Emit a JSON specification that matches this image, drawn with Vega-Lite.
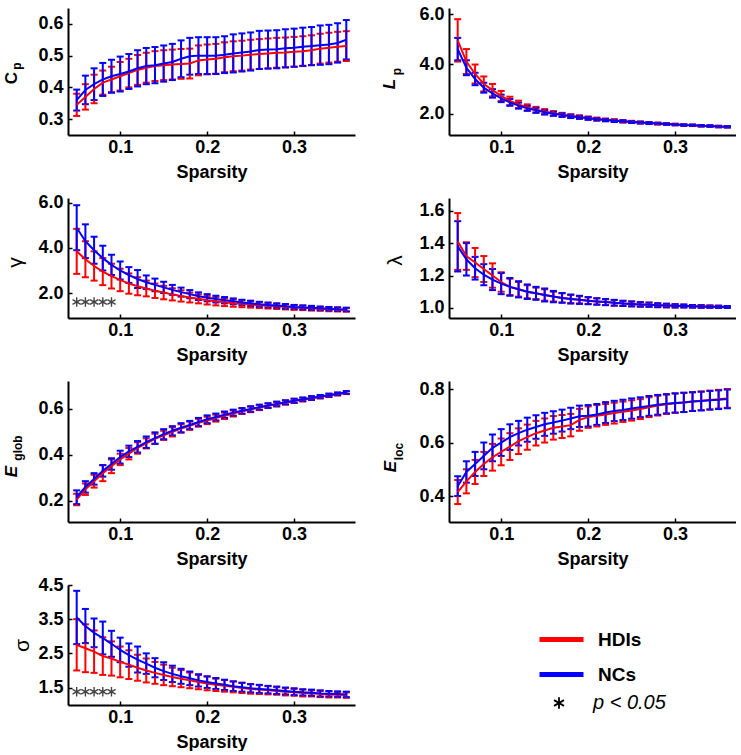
{
"$schema": "https://vega.github.io/schema/vega-lite/v6.json",
"padding": {"left": 2, "top": 5, "right": 0, "bottom": 0},
"background": "white",
"config": {
 "view": {"stroke": null},
 "font": "Liberation Sans",
 "axis": {"labelFont": "Liberation Sans", "labelFontSize": 18, "labelFontWeight": "bold", "labelColor": "black", "titleFont": "Liberation Sans", "titleFontSize": 17, "titleFontWeight": "bold", "titleColor": "black", "domainColor": "black", "domainWidth": 2, "tickColor": "black", "tickWidth": 1.5, "tickSize": -4, "grid": false},
 "axisX": {"labelPadding": 7, "titlePadding": 7, "titleFontSize": 18},
 "axisY": {"labelPadding": 9, "titleAngle": 270, "titleAlign": "center", "titleBaseline": "middle"},
 "legend": {"padding": 0, "labelFont": "Liberation Sans", "labelColor": "black"}
},
"datasets": {
"cp": [
{"g":"HDIs","x":0.05,"y":0.345,"e":0.035},{"g":"HDIs","x":0.06,"y":0.370,"e":0.040},{"g":"HDIs","x":0.07,"y":0.395,"e":0.045},{"g":"HDIs","x":0.08,"y":0.415,"e":0.038},{"g":"HDIs","x":0.09,"y":0.425,"e":0.040},{"g":"HDIs","x":0.10,"y":0.435,"e":0.045},{"g":"HDIs","x":0.11,"y":0.445,"e":0.045},{"g":"HDIs","x":0.12,"y":0.455,"e":0.047},{"g":"HDIs","x":0.13,"y":0.462,"e":0.047},{"g":"HDIs","x":0.14,"y":0.467,"e":0.047},{"g":"HDIs","x":0.15,"y":0.470,"e":0.047},{"g":"HDIs","x":0.16,"y":0.472,"e":0.047},{"g":"HDIs","x":0.17,"y":0.474,"e":0.047},{"g":"HDIs","x":0.18,"y":0.475,"e":0.047},{"g":"HDIs","x":0.19,"y":0.485,"e":0.047},{"g":"HDIs","x":0.20,"y":0.488,"e":0.047},{"g":"HDIs","x":0.21,"y":0.490,"e":0.047},{"g":"HDIs","x":0.22,"y":0.495,"e":0.047},{"g":"HDIs","x":0.23,"y":0.498,"e":0.047},{"g":"HDIs","x":0.24,"y":0.500,"e":0.047},{"g":"HDIs","x":0.25,"y":0.503,"e":0.047},{"g":"HDIs","x":0.26,"y":0.505,"e":0.047},{"g":"HDIs","x":0.27,"y":0.507,"e":0.047},{"g":"HDIs","x":0.28,"y":0.509,"e":0.047},{"g":"HDIs","x":0.29,"y":0.510,"e":0.047},{"g":"HDIs","x":0.30,"y":0.512,"e":0.047},{"g":"HDIs","x":0.31,"y":0.514,"e":0.047},{"g":"HDIs","x":0.32,"y":0.517,"e":0.047},{"g":"HDIs","x":0.33,"y":0.522,"e":0.047},{"g":"HDIs","x":0.34,"y":0.525,"e":0.047},{"g":"HDIs","x":0.35,"y":0.528,"e":0.047},{"g":"HDIs","x":0.36,"y":0.530,"e":0.047},
{"g":"NCs","x":0.05,"y":0.360,"e":0.033},{"g":"NCs","x":0.06,"y":0.392,"e":0.045},{"g":"NCs","x":0.07,"y":0.410,"e":0.050},{"g":"NCs","x":0.08,"y":0.425,"e":0.052},{"g":"NCs","x":0.09,"y":0.435,"e":0.052},{"g":"NCs","x":0.10,"y":0.442,"e":0.055},{"g":"NCs","x":0.11,"y":0.450,"e":0.055},{"g":"NCs","x":0.12,"y":0.460,"e":0.057},{"g":"NCs","x":0.13,"y":0.467,"e":0.057},{"g":"NCs","x":0.14,"y":0.470,"e":0.057},{"g":"NCs","x":0.15,"y":0.475,"e":0.057},{"g":"NCs","x":0.16,"y":0.480,"e":0.057},{"g":"NCs","x":0.17,"y":0.490,"e":0.058},{"g":"NCs","x":0.18,"y":0.498,"e":0.058},{"g":"NCs","x":0.19,"y":0.500,"e":0.058},{"g":"NCs","x":0.20,"y":0.500,"e":0.058},{"g":"NCs","x":0.21,"y":0.500,"e":0.058},{"g":"NCs","x":0.22,"y":0.503,"e":0.058},{"g":"NCs","x":0.23,"y":0.507,"e":0.060},{"g":"NCs","x":0.24,"y":0.510,"e":0.060},{"g":"NCs","x":0.25,"y":0.513,"e":0.060},{"g":"NCs","x":0.26,"y":0.518,"e":0.060},{"g":"NCs","x":0.27,"y":0.519,"e":0.060},{"g":"NCs","x":0.28,"y":0.520,"e":0.060},{"g":"NCs","x":0.29,"y":0.523,"e":0.060},{"g":"NCs","x":0.30,"y":0.525,"e":0.060},{"g":"NCs","x":0.31,"y":0.528,"e":0.060},{"g":"NCs","x":0.32,"y":0.530,"e":0.060},{"g":"NCs","x":0.33,"y":0.533,"e":0.062},{"g":"NCs","x":0.34,"y":0.535,"e":0.062},{"g":"NCs","x":0.35,"y":0.540,"e":0.062},{"g":"NCs","x":0.36,"y":0.550,"e":0.062}
],
"lp": [
{"g":"HDIs","x":0.05,"y":4.95,"e":0.85},{"g":"HDIs","x":0.06,"y":4.10,"e":0.50},{"g":"HDIs","x":0.07,"y":3.60,"e":0.38},{"g":"HDIs","x":0.08,"y":3.20,"e":0.30},{"g":"HDIs","x":0.09,"y":2.95,"e":0.25},{"g":"HDIs","x":0.10,"y":2.72,"e":0.20},{"g":"HDIs","x":0.11,"y":2.52,"e":0.17},{"g":"HDIs","x":0.12,"y":2.38,"e":0.15},{"g":"HDIs","x":0.13,"y":2.26,"e":0.12},{"g":"HDIs","x":0.14,"y":2.17,"e":0.11},{"g":"HDIs","x":0.15,"y":2.09,"e":0.10},{"g":"HDIs","x":0.16,"y":2.02,"e":0.09},{"g":"HDIs","x":0.17,"y":1.96,"e":0.08},{"g":"HDIs","x":0.18,"y":1.91,"e":0.07},{"g":"HDIs","x":0.19,"y":1.87,"e":0.07},{"g":"HDIs","x":0.20,"y":1.83,"e":0.06},{"g":"HDIs","x":0.21,"y":1.79,"e":0.06},{"g":"HDIs","x":0.22,"y":1.76,"e":0.05},{"g":"HDIs","x":0.23,"y":1.73,"e":0.05},{"g":"HDIs","x":0.24,"y":1.70,"e":0.05},{"g":"HDIs","x":0.25,"y":1.68,"e":0.04},{"g":"HDIs","x":0.26,"y":1.65,"e":0.04},{"g":"HDIs","x":0.27,"y":1.63,"e":0.04},{"g":"HDIs","x":0.28,"y":1.61,"e":0.04},{"g":"HDIs","x":0.29,"y":1.59,"e":0.03},{"g":"HDIs","x":0.30,"y":1.57,"e":0.03},{"g":"HDIs","x":0.31,"y":1.55,"e":0.03},{"g":"HDIs","x":0.32,"y":1.54,"e":0.03},{"g":"HDIs","x":0.33,"y":1.52,"e":0.03},{"g":"HDIs","x":0.34,"y":1.51,"e":0.03},{"g":"HDIs","x":0.35,"y":1.49,"e":0.03},{"g":"HDIs","x":0.36,"y":1.48,"e":0.03},
{"g":"NCs","x":0.05,"y":4.60,"e":0.45},{"g":"NCs","x":0.06,"y":3.85,"e":0.30},{"g":"NCs","x":0.07,"y":3.40,"e":0.25},{"g":"NCs","x":0.08,"y":3.05,"e":0.20},{"g":"NCs","x":0.09,"y":2.82,"e":0.17},{"g":"NCs","x":0.10,"y":2.62,"e":0.15},{"g":"NCs","x":0.11,"y":2.46,"e":0.14},{"g":"NCs","x":0.12,"y":2.33,"e":0.12},{"g":"NCs","x":0.13,"y":2.22,"e":0.10},{"g":"NCs","x":0.14,"y":2.14,"e":0.10},{"g":"NCs","x":0.15,"y":2.06,"e":0.09},{"g":"NCs","x":0.16,"y":2.00,"e":0.08},{"g":"NCs","x":0.17,"y":1.95,"e":0.07},{"g":"NCs","x":0.18,"y":1.90,"e":0.07},{"g":"NCs","x":0.19,"y":1.86,"e":0.06},{"g":"NCs","x":0.20,"y":1.82,"e":0.06},{"g":"NCs","x":0.21,"y":1.78,"e":0.05},{"g":"NCs","x":0.22,"y":1.75,"e":0.05},{"g":"NCs","x":0.23,"y":1.72,"e":0.05},{"g":"NCs","x":0.24,"y":1.70,"e":0.04},{"g":"NCs","x":0.25,"y":1.67,"e":0.04},{"g":"NCs","x":0.26,"y":1.65,"e":0.04},{"g":"NCs","x":0.27,"y":1.63,"e":0.04},{"g":"NCs","x":0.28,"y":1.61,"e":0.03},{"g":"NCs","x":0.29,"y":1.59,"e":0.03},{"g":"NCs","x":0.30,"y":1.57,"e":0.03},{"g":"NCs","x":0.31,"y":1.55,"e":0.03},{"g":"NCs","x":0.32,"y":1.54,"e":0.03},{"g":"NCs","x":0.33,"y":1.52,"e":0.03},{"g":"NCs","x":0.34,"y":1.51,"e":0.03},{"g":"NCs","x":0.35,"y":1.49,"e":0.03},{"g":"NCs","x":0.36,"y":1.48,"e":0.03}
],
"gam": [
{"g":"HDIs","x":0.05,"y":3.85,"e":1.00},{"g":"HDIs","x":0.06,"y":3.50,"e":0.80},{"g":"HDIs","x":0.07,"y":3.20,"e":0.65},{"g":"HDIs","x":0.08,"y":2.95,"e":0.60},{"g":"HDIs","x":0.09,"y":2.75,"e":0.55},{"g":"HDIs","x":0.10,"y":2.58,"e":0.50},{"g":"HDIs","x":0.11,"y":2.42,"e":0.45},{"g":"HDIs","x":0.12,"y":2.30,"e":0.40},{"g":"HDIs","x":0.13,"y":2.20,"e":0.35},{"g":"HDIs","x":0.14,"y":2.10,"e":0.32},{"g":"HDIs","x":0.15,"y":2.02,"e":0.30},{"g":"HDIs","x":0.16,"y":1.94,"e":0.27},{"g":"HDIs","x":0.17,"y":1.87,"e":0.25},{"g":"HDIs","x":0.18,"y":1.80,"e":0.22},{"g":"HDIs","x":0.19,"y":1.74,"e":0.20},{"g":"HDIs","x":0.20,"y":1.68,"e":0.19},{"g":"HDIs","x":0.21,"y":1.63,"e":0.18},{"g":"HDIs","x":0.22,"y":1.59,"e":0.17},{"g":"HDIs","x":0.23,"y":1.55,"e":0.16},{"g":"HDIs","x":0.24,"y":1.52,"e":0.15},{"g":"HDIs","x":0.25,"y":1.49,"e":0.14},{"g":"HDIs","x":0.26,"y":1.46,"e":0.13},{"g":"HDIs","x":0.27,"y":1.43,"e":0.12},{"g":"HDIs","x":0.28,"y":1.41,"e":0.12},{"g":"HDIs","x":0.29,"y":1.38,"e":0.11},{"g":"HDIs","x":0.30,"y":1.36,"e":0.11},{"g":"HDIs","x":0.31,"y":1.34,"e":0.10},{"g":"HDIs","x":0.32,"y":1.32,"e":0.10},{"g":"HDIs","x":0.33,"y":1.30,"e":0.09},{"g":"HDIs","x":0.34,"y":1.28,"e":0.09},{"g":"HDIs","x":0.35,"y":1.27,"e":0.09},{"g":"HDIs","x":0.36,"y":1.25,"e":0.08},
{"g":"NCs","x":0.05,"y":4.90,"e":1.00},{"g":"NCs","x":0.06,"y":4.30,"e":0.75},{"g":"NCs","x":0.07,"y":3.90,"e":0.60},{"g":"NCs","x":0.08,"y":3.55,"e":0.55},{"g":"NCs","x":0.09,"y":3.25,"e":0.45},{"g":"NCs","x":0.10,"y":3.00,"e":0.40},{"g":"NCs","x":0.11,"y":2.80,"e":0.35},{"g":"NCs","x":0.12,"y":2.62,"e":0.40},{"g":"NCs","x":0.13,"y":2.48,"e":0.30},{"g":"NCs","x":0.14,"y":2.36,"e":0.28},{"g":"NCs","x":0.15,"y":2.25,"e":0.25},{"g":"NCs","x":0.16,"y":2.14,"e":0.22},{"g":"NCs","x":0.17,"y":2.04,"e":0.20},{"g":"NCs","x":0.18,"y":1.95,"e":0.18},{"g":"NCs","x":0.19,"y":1.86,"e":0.17},{"g":"NCs","x":0.20,"y":1.79,"e":0.16},{"g":"NCs","x":0.21,"y":1.73,"e":0.15},{"g":"NCs","x":0.22,"y":1.68,"e":0.14},{"g":"NCs","x":0.23,"y":1.63,"e":0.13},{"g":"NCs","x":0.24,"y":1.58,"e":0.12},{"g":"NCs","x":0.25,"y":1.54,"e":0.12},{"g":"NCs","x":0.26,"y":1.50,"e":0.11},{"g":"NCs","x":0.27,"y":1.47,"e":0.11},{"g":"NCs","x":0.28,"y":1.44,"e":0.10},{"g":"NCs","x":0.29,"y":1.41,"e":0.10},{"g":"NCs","x":0.30,"y":1.38,"e":0.09},{"g":"NCs","x":0.31,"y":1.36,"e":0.09},{"g":"NCs","x":0.32,"y":1.34,"e":0.09},{"g":"NCs","x":0.33,"y":1.32,"e":0.08},{"g":"NCs","x":0.34,"y":1.30,"e":0.08},{"g":"NCs","x":0.35,"y":1.28,"e":0.08},{"g":"NCs","x":0.36,"y":1.27,"e":0.08}
],
"lam": [
{"g":"HDIs","x":0.05,"y":1.410,"e":0.175},{"g":"HDIs","x":0.06,"y":1.320,"e":0.085},{"g":"HDIs","x":0.07,"y":1.280,"e":0.090},{"g":"HDIs","x":0.08,"y":1.240,"e":0.080},{"g":"HDIs","x":0.09,"y":1.200,"e":0.075},{"g":"HDIs","x":0.10,"y":1.160,"e":0.060},{"g":"HDIs","x":0.11,"y":1.130,"e":0.050},{"g":"HDIs","x":0.12,"y":1.115,"e":0.045},{"g":"HDIs","x":0.13,"y":1.100,"e":0.040},{"g":"HDIs","x":0.14,"y":1.090,"e":0.035},{"g":"HDIs","x":0.15,"y":1.080,"e":0.035},{"g":"HDIs","x":0.16,"y":1.070,"e":0.030},{"g":"HDIs","x":0.17,"y":1.062,"e":0.028},{"g":"HDIs","x":0.18,"y":1.055,"e":0.025},{"g":"HDIs","x":0.19,"y":1.050,"e":0.022},{"g":"HDIs","x":0.20,"y":1.045,"e":0.020},{"g":"HDIs","x":0.21,"y":1.040,"e":0.019},{"g":"HDIs","x":0.22,"y":1.036,"e":0.018},{"g":"HDIs","x":0.23,"y":1.032,"e":0.017},{"g":"HDIs","x":0.24,"y":1.028,"e":0.016},{"g":"HDIs","x":0.25,"y":1.025,"e":0.015},{"g":"HDIs","x":0.26,"y":1.022,"e":0.014},{"g":"HDIs","x":0.27,"y":1.020,"e":0.013},{"g":"HDIs","x":0.28,"y":1.017,"e":0.012},{"g":"HDIs","x":0.29,"y":1.015,"e":0.011},{"g":"HDIs","x":0.30,"y":1.013,"e":0.010},{"g":"HDIs","x":0.31,"y":1.012,"e":0.009},{"g":"HDIs","x":0.32,"y":1.010,"e":0.008},{"g":"HDIs","x":0.33,"y":1.009,"e":0.008},{"g":"HDIs","x":0.34,"y":1.008,"e":0.007},{"g":"HDIs","x":0.35,"y":1.007,"e":0.007},{"g":"HDIs","x":0.36,"y":1.006,"e":0.006},
{"g":"NCs","x":0.05,"y":1.380,"e":0.155},{"g":"NCs","x":0.06,"y":1.300,"e":0.100},{"g":"NCs","x":0.07,"y":1.245,"e":0.070},{"g":"NCs","x":0.08,"y":1.205,"e":0.065},{"g":"NCs","x":0.09,"y":1.175,"e":0.065},{"g":"NCs","x":0.10,"y":1.150,"e":0.065},{"g":"NCs","x":0.11,"y":1.130,"e":0.055},{"g":"NCs","x":0.12,"y":1.115,"e":0.050},{"g":"NCs","x":0.13,"y":1.100,"e":0.045},{"g":"NCs","x":0.14,"y":1.090,"e":0.040},{"g":"NCs","x":0.15,"y":1.080,"e":0.040},{"g":"NCs","x":0.16,"y":1.070,"e":0.035},{"g":"NCs","x":0.17,"y":1.062,"e":0.030},{"g":"NCs","x":0.18,"y":1.055,"e":0.028},{"g":"NCs","x":0.19,"y":1.050,"e":0.025},{"g":"NCs","x":0.20,"y":1.045,"e":0.022},{"g":"NCs","x":0.21,"y":1.040,"e":0.020},{"g":"NCs","x":0.22,"y":1.036,"e":0.019},{"g":"NCs","x":0.23,"y":1.032,"e":0.018},{"g":"NCs","x":0.24,"y":1.028,"e":0.016},{"g":"NCs","x":0.25,"y":1.025,"e":0.015},{"g":"NCs","x":0.26,"y":1.022,"e":0.014},{"g":"NCs","x":0.27,"y":1.020,"e":0.013},{"g":"NCs","x":0.28,"y":1.017,"e":0.012},{"g":"NCs","x":0.29,"y":1.015,"e":0.011},{"g":"NCs","x":0.30,"y":1.013,"e":0.010},{"g":"NCs","x":0.31,"y":1.012,"e":0.009},{"g":"NCs","x":0.32,"y":1.010,"e":0.008},{"g":"NCs","x":0.33,"y":1.009,"e":0.008},{"g":"NCs","x":0.34,"y":1.008,"e":0.007},{"g":"NCs","x":0.35,"y":1.007,"e":0.007},{"g":"NCs","x":0.36,"y":1.006,"e":0.006}
],
"eg": [
{"g":"HDIs","x":0.05,"y":0.205,"e":0.025},{"g":"HDIs","x":0.06,"y":0.250,"e":0.025},{"g":"HDIs","x":0.07,"y":0.285,"e":0.028},{"g":"HDIs","x":0.08,"y":0.320,"e":0.035},{"g":"HDIs","x":0.09,"y":0.350,"e":0.030},{"g":"HDIs","x":0.10,"y":0.380,"e":0.025},{"g":"HDIs","x":0.11,"y":0.405,"e":0.025},{"g":"HDIs","x":0.12,"y":0.430,"e":0.025},{"g":"HDIs","x":0.13,"y":0.450,"e":0.022},{"g":"HDIs","x":0.14,"y":0.470,"e":0.022},{"g":"HDIs","x":0.15,"y":0.485,"e":0.020},{"g":"HDIs","x":0.16,"y":0.500,"e":0.020},{"g":"HDIs","x":0.17,"y":0.515,"e":0.018},{"g":"HDIs","x":0.18,"y":0.527,"e":0.018},{"g":"HDIs","x":0.19,"y":0.540,"e":0.017},{"g":"HDIs","x":0.20,"y":0.550,"e":0.016},{"g":"HDIs","x":0.21,"y":0.560,"e":0.015},{"g":"HDIs","x":0.22,"y":0.570,"e":0.014},{"g":"HDIs","x":0.23,"y":0.580,"e":0.013},{"g":"HDIs","x":0.24,"y":0.590,"e":0.012},{"g":"HDIs","x":0.25,"y":0.598,"e":0.012},{"g":"HDIs","x":0.26,"y":0.606,"e":0.011},{"g":"HDIs","x":0.27,"y":0.614,"e":0.010},{"g":"HDIs","x":0.28,"y":0.621,"e":0.010},{"g":"HDIs","x":0.29,"y":0.628,"e":0.009},{"g":"HDIs","x":0.30,"y":0.635,"e":0.009},{"g":"HDIs","x":0.31,"y":0.641,"e":0.008},{"g":"HDIs","x":0.32,"y":0.647,"e":0.008},{"g":"HDIs","x":0.33,"y":0.653,"e":0.007},{"g":"HDIs","x":0.34,"y":0.659,"e":0.007},{"g":"HDIs","x":0.35,"y":0.665,"e":0.006},{"g":"HDIs","x":0.36,"y":0.671,"e":0.006},
{"g":"NCs","x":0.05,"y":0.215,"e":0.030},{"g":"NCs","x":0.06,"y":0.260,"e":0.025},{"g":"NCs","x":0.07,"y":0.295,"e":0.025},{"g":"NCs","x":0.08,"y":0.330,"e":0.025},{"g":"NCs","x":0.09,"y":0.360,"e":0.025},{"g":"NCs","x":0.10,"y":0.390,"e":0.028},{"g":"NCs","x":0.11,"y":0.415,"e":0.025},{"g":"NCs","x":0.12,"y":0.435,"e":0.025},{"g":"NCs","x":0.13,"y":0.455,"e":0.025},{"g":"NCs","x":0.14,"y":0.473,"e":0.025},{"g":"NCs","x":0.15,"y":0.490,"e":0.022},{"g":"NCs","x":0.16,"y":0.505,"e":0.020},{"g":"NCs","x":0.17,"y":0.518,"e":0.020},{"g":"NCs","x":0.18,"y":0.530,"e":0.018},{"g":"NCs","x":0.19,"y":0.543,"e":0.018},{"g":"NCs","x":0.20,"y":0.555,"e":0.017},{"g":"NCs","x":0.21,"y":0.565,"e":0.015},{"g":"NCs","x":0.22,"y":0.575,"e":0.014},{"g":"NCs","x":0.23,"y":0.584,"e":0.013},{"g":"NCs","x":0.24,"y":0.592,"e":0.012},{"g":"NCs","x":0.25,"y":0.600,"e":0.012},{"g":"NCs","x":0.26,"y":0.608,"e":0.011},{"g":"NCs","x":0.27,"y":0.615,"e":0.010},{"g":"NCs","x":0.28,"y":0.622,"e":0.010},{"g":"NCs","x":0.29,"y":0.629,"e":0.009},{"g":"NCs","x":0.30,"y":0.636,"e":0.009},{"g":"NCs","x":0.31,"y":0.642,"e":0.008},{"g":"NCs","x":0.32,"y":0.648,"e":0.008},{"g":"NCs","x":0.33,"y":0.654,"e":0.007},{"g":"NCs","x":0.34,"y":0.660,"e":0.007},{"g":"NCs","x":0.35,"y":0.666,"e":0.006},{"g":"NCs","x":0.36,"y":0.672,"e":0.006}
],
"el": [
{"g":"HDIs","x":0.05,"y":0.415,"e":0.045},{"g":"HDIs","x":0.06,"y":0.455,"e":0.045},{"g":"HDIs","x":0.07,"y":0.490,"e":0.045},{"g":"HDIs","x":0.08,"y":0.520,"e":0.045},{"g":"HDIs","x":0.09,"y":0.545,"e":0.050},{"g":"HDIs","x":0.10,"y":0.565,"e":0.050},{"g":"HDIs","x":0.11,"y":0.585,"e":0.050},{"g":"HDIs","x":0.12,"y":0.605,"e":0.048},{"g":"HDIs","x":0.13,"y":0.620,"e":0.047},{"g":"HDIs","x":0.14,"y":0.635,"e":0.046},{"g":"HDIs","x":0.15,"y":0.645,"e":0.045},{"g":"HDIs","x":0.16,"y":0.655,"e":0.044},{"g":"HDIs","x":0.17,"y":0.660,"e":0.043},{"g":"HDIs","x":0.18,"y":0.665,"e":0.042},{"g":"HDIs","x":0.19,"y":0.685,"e":0.041},{"g":"HDIs","x":0.20,"y":0.695,"e":0.040},{"g":"HDIs","x":0.21,"y":0.700,"e":0.040},{"g":"HDIs","x":0.22,"y":0.705,"e":0.039},{"g":"HDIs","x":0.23,"y":0.710,"e":0.039},{"g":"HDIs","x":0.24,"y":0.715,"e":0.038},{"g":"HDIs","x":0.25,"y":0.720,"e":0.038},{"g":"HDIs","x":0.26,"y":0.725,"e":0.037},{"g":"HDIs","x":0.27,"y":0.732,"e":0.037},{"g":"HDIs","x":0.28,"y":0.738,"e":0.037},{"g":"HDIs","x":0.29,"y":0.743,"e":0.036},{"g":"HDIs","x":0.30,"y":0.747,"e":0.036},{"g":"HDIs","x":0.31,"y":0.750,"e":0.036},{"g":"HDIs","x":0.32,"y":0.753,"e":0.035},{"g":"HDIs","x":0.33,"y":0.756,"e":0.035},{"g":"HDIs","x":0.34,"y":0.759,"e":0.035},{"g":"HDIs","x":0.35,"y":0.762,"e":0.035},{"g":"HDIs","x":0.36,"y":0.765,"e":0.035},
{"g":"NCs","x":0.05,"y":0.437,"e":0.037},{"g":"NCs","x":0.06,"y":0.490,"e":0.040},{"g":"NCs","x":0.07,"y":0.520,"e":0.045},{"g":"NCs","x":0.08,"y":0.550,"e":0.050},{"g":"NCs","x":0.09,"y":0.580,"e":0.050},{"g":"NCs","x":0.10,"y":0.600,"e":0.050},{"g":"NCs","x":0.11,"y":0.620,"e":0.048},{"g":"NCs","x":0.12,"y":0.635,"e":0.046},{"g":"NCs","x":0.13,"y":0.648,"e":0.045},{"g":"NCs","x":0.14,"y":0.658,"e":0.044},{"g":"NCs","x":0.15,"y":0.668,"e":0.043},{"g":"NCs","x":0.16,"y":0.675,"e":0.042},{"g":"NCs","x":0.17,"y":0.682,"e":0.041},{"g":"NCs","x":0.18,"y":0.690,"e":0.040},{"g":"NCs","x":0.19,"y":0.698,"e":0.040},{"g":"NCs","x":0.20,"y":0.700,"e":0.040},{"g":"NCs","x":0.21,"y":0.705,"e":0.039},{"g":"NCs","x":0.22,"y":0.712,"e":0.039},{"g":"NCs","x":0.23,"y":0.718,"e":0.038},{"g":"NCs","x":0.24,"y":0.722,"e":0.038},{"g":"NCs","x":0.25,"y":0.727,"e":0.038},{"g":"NCs","x":0.26,"y":0.732,"e":0.037},{"g":"NCs","x":0.27,"y":0.737,"e":0.037},{"g":"NCs","x":0.28,"y":0.741,"e":0.037},{"g":"NCs","x":0.29,"y":0.745,"e":0.036},{"g":"NCs","x":0.30,"y":0.748,"e":0.036},{"g":"NCs","x":0.31,"y":0.750,"e":0.036},{"g":"NCs","x":0.32,"y":0.753,"e":0.035},{"g":"NCs","x":0.33,"y":0.755,"e":0.035},{"g":"NCs","x":0.34,"y":0.758,"e":0.035},{"g":"NCs","x":0.35,"y":0.760,"e":0.035},{"g":"NCs","x":0.36,"y":0.763,"e":0.035}
],
"sig": [
{"g":"HDIs","x":0.05,"y":2.75,"e":0.75},{"g":"HDIs","x":0.06,"y":2.65,"e":0.70},{"g":"HDIs","x":0.07,"y":2.55,"e":0.62},{"g":"HDIs","x":0.08,"y":2.42,"e":0.55},{"g":"HDIs","x":0.09,"y":2.35,"e":0.50},{"g":"HDIs","x":0.10,"y":2.25,"e":0.45},{"g":"HDIs","x":0.11,"y":2.17,"e":0.42},{"g":"HDIs","x":0.12,"y":2.08,"e":0.38},{"g":"HDIs","x":0.13,"y":2.00,"e":0.35},{"g":"HDIs","x":0.14,"y":1.93,"e":0.32},{"g":"HDIs","x":0.15,"y":1.87,"e":0.30},{"g":"HDIs","x":0.16,"y":1.81,"e":0.27},{"g":"HDIs","x":0.17,"y":1.76,"e":0.25},{"g":"HDIs","x":0.18,"y":1.71,"e":0.23},{"g":"HDIs","x":0.19,"y":1.66,"e":0.21},{"g":"HDIs","x":0.20,"y":1.62,"e":0.20},{"g":"HDIs","x":0.21,"y":1.58,"e":0.18},{"g":"HDIs","x":0.22,"y":1.55,"e":0.17},{"g":"HDIs","x":0.23,"y":1.52,"e":0.16},{"g":"HDIs","x":0.24,"y":1.49,"e":0.15},{"g":"HDIs","x":0.25,"y":1.46,"e":0.14},{"g":"HDIs","x":0.26,"y":1.44,"e":0.13},{"g":"HDIs","x":0.27,"y":1.42,"e":0.12},{"g":"HDIs","x":0.28,"y":1.40,"e":0.11},{"g":"HDIs","x":0.29,"y":1.38,"e":0.11},{"g":"HDIs","x":0.30,"y":1.36,"e":0.10},{"g":"HDIs","x":0.31,"y":1.34,"e":0.10},{"g":"HDIs","x":0.32,"y":1.33,"e":0.09},{"g":"HDIs","x":0.33,"y":1.31,"e":0.09},{"g":"HDIs","x":0.34,"y":1.30,"e":0.09},{"g":"HDIs","x":0.35,"y":1.29,"e":0.08},{"g":"HDIs","x":0.36,"y":1.28,"e":0.08},
{"g":"NCs","x":0.05,"y":3.55,"e":0.78},{"g":"NCs","x":0.06,"y":3.30,"e":0.50},{"g":"NCs","x":0.07,"y":3.10,"e":0.42},{"g":"NCs","x":0.08,"y":2.95,"e":0.48},{"g":"NCs","x":0.09,"y":2.78,"e":0.38},{"g":"NCs","x":0.10,"y":2.60,"e":0.36},{"g":"NCs","x":0.11,"y":2.45,"e":0.34},{"g":"NCs","x":0.12,"y":2.32,"e":0.38},{"g":"NCs","x":0.13,"y":2.20,"e":0.30},{"g":"NCs","x":0.14,"y":2.08,"e":0.28},{"g":"NCs","x":0.15,"y":1.98,"e":0.26},{"g":"NCs","x":0.16,"y":1.90,"e":0.24},{"g":"NCs","x":0.17,"y":1.83,"e":0.22},{"g":"NCs","x":0.18,"y":1.77,"e":0.20},{"g":"NCs","x":0.19,"y":1.71,"e":0.18},{"g":"NCs","x":0.20,"y":1.66,"e":0.17},{"g":"NCs","x":0.21,"y":1.62,"e":0.16},{"g":"NCs","x":0.22,"y":1.58,"e":0.15},{"g":"NCs","x":0.23,"y":1.54,"e":0.14},{"g":"NCs","x":0.24,"y":1.51,"e":0.13},{"g":"NCs","x":0.25,"y":1.48,"e":0.12},{"g":"NCs","x":0.26,"y":1.46,"e":0.12},{"g":"NCs","x":0.27,"y":1.44,"e":0.11},{"g":"NCs","x":0.28,"y":1.42,"e":0.11},{"g":"NCs","x":0.29,"y":1.40,"e":0.10},{"g":"NCs","x":0.30,"y":1.38,"e":0.10},{"g":"NCs","x":0.31,"y":1.36,"e":0.09},{"g":"NCs","x":0.32,"y":1.35,"e":0.09},{"g":"NCs","x":0.33,"y":1.33,"e":0.09},{"g":"NCs","x":0.34,"y":1.32,"e":0.08},{"g":"NCs","x":0.35,"y":1.31,"e":0.08},{"g":"NCs","x":0.36,"y":1.30,"e":0.08}
],
"astg": [{"x":0.05,"y":1.6,"s":"p < 0.05"},{"x":0.06,"y":1.6,"s":"p < 0.05"},{"x":0.07,"y":1.6,"s":"p < 0.05"},{"x":0.08,"y":1.6,"s":"p < 0.05"},{"x":0.09,"y":1.6,"s":"p < 0.05"}],
"asts": [{"x":0.05,"y":1.38,"s":"p < 0.05"},{"x":0.06,"y":1.38,"s":"p < 0.05"},{"x":0.07,"y":1.38,"s":"p < 0.05"},{"x":0.08,"y":1.38,"s":"p < 0.05"},{"x":0.09,"y":1.38,"s":"p < 0.05"}]
},
"columns": 2,
"bounds": "flush",
"spacing": {"row": 63, "column": 94},
"concat": [
{"width": 287, "height": 127, "data": {"name": "cp"}, "resolve": {"axis": {"y": "independent"}},
 "layer": [
  {"mark": {"type": "errorbar", "ticks": {"size": 7}, "thickness": 2, "opacity": 1},
   "encoding": {
    "x": {"field": "x", "type": "quantitative", "scale": {"domain": [0.04, 0.37], "nice": false, "zero": false}, "axis": {"values": [0.1, 0.2, 0.3], "format": ".1f", "title": "Sparsity"}},
    "y": {"field": "y", "type": "quantitative", "scale": {"domain": [0.25, 0.65], "nice": false, "zero": false}, "axis": {"values": [0.3, 0.4, 0.5, 0.6], "format": ".1f", "title": "C", "titleX": -57, "titleY": 69.5}},
    "yError": {"field": "e"},
    "color": {"field": "g", "type": "nominal", "scale": {"domain": ["HDIs", "NCs"], "range": ["#ff0000", "#0000ff"]},
      "legend": {"title": null, "orient": "none", "legendX": 469, "legendY": 607, "symbolType": "stroke", "symbolSize": 1936, "symbolStrokeWidth": 5, "symbolOpacity": 1, "labelFontSize": 19, "labelFontWeight": "bold", "labelOffset": 12, "rowPadding": -13}}
   }},
  {"mark": {"type": "line", "strokeWidth": 2},
   "encoding": {
    "x": {"field": "x", "type": "quantitative"},
    "y": {"field": "y", "type": "quantitative", "axis": {"orient": "left", "title": "p", "titleFontSize": 12, "domain": false, "labels": false, "ticks": false, "titleX": -51.5, "titleY": 57.5}},
    "color": {"field": "g", "type": "nominal"}
   }}
 ]},
{"width": 287, "height": 127, "data": {"name": "lp"}, "resolve": {"axis": {"y": "independent"}},
 "layer": [
  {"mark": {"type": "errorbar", "ticks": {"size": 7}, "thickness": 2, "opacity": 1},
   "encoding": {
    "x": {"field": "x", "type": "quantitative", "scale": {"domain": [0.04, 0.37], "nice": false, "zero": false}, "axis": {"values": [0.1, 0.2, 0.3], "format": ".1f", "title": "Sparsity"}},
    "y": {"field": "y", "type": "quantitative", "scale": {"domain": [1.15, 6.25], "nice": false, "zero": false}, "axis": {"values": [2, 4, 6], "format": ".1f", "title": "L", "titleFontStyle": "italic", "titleX": -60, "titleY": 75.5}},
    "yError": {"field": "e"},
    "color": {"field": "g", "type": "nominal"}
   }},
  {"mark": {"type": "line", "strokeWidth": 2},
   "encoding": {
    "x": {"field": "x", "type": "quantitative"},
    "y": {"field": "y", "type": "quantitative", "axis": {"orient": "left", "title": "p", "titleFontSize": 12, "domain": false, "labels": false, "ticks": false, "titleX": -52.5, "titleY": 63}},
    "color": {"field": "g", "type": "nominal"}
   }}
 ]},
{"width": 287, "height": 120, "resolve": {"axis": {"y": "independent"}},
 "layer": [
  {"data": {"name": "gam"}, "mark": {"type": "errorbar", "ticks": {"size": 7}, "thickness": 2, "opacity": 1},
   "encoding": {
    "x": {"field": "x", "type": "quantitative", "scale": {"domain": [0.04, 0.37], "nice": false, "zero": false}, "axis": {"values": [0.1, 0.2, 0.3], "format": ".1f", "title": "Sparsity"}},
    "y": {"field": "y", "type": "quantitative", "scale": {"domain": [0.89, 6.22], "nice": false, "zero": false}, "axis": {"values": [2, 4, 6], "format": ".1f", "title": "γ", "titleFontSize": 21, "titleFontWeight": "normal", "titleX": -53, "titleY": 64}},
    "yError": {"field": "e"},
    "color": {"field": "g", "type": "nominal"}
   }},
  {"data": {"name": "gam"}, "mark": {"type": "line", "strokeWidth": 2},
   "encoding": {
    "x": {"field": "x", "type": "quantitative"},
    "y": {"field": "y", "type": "quantitative", "axis": null},
    "color": {"field": "g", "type": "nominal"}
   }},
  {"data": {"name": "astg"}, "mark": {"type": "point", "filled": false, "size": 90, "strokeWidth": 1.4, "color": "#444444", "opacity": 1},
   "encoding": {
    "x": {"field": "x", "type": "quantitative"},
    "y": {"field": "y", "type": "quantitative", "axis": null},
    "shape": {"field": "s", "type": "nominal", "scale": {"domain": ["p < 0.05"], "range": ["M0,-1L0,1M-0.87,-0.5L0.87,0.5M-0.87,0.5L0.87,-0.5"]},
      "legend": {"title": null, "orient": "none", "legendX": 481, "legendY": 685, "labelFontSize": 20, "labelFontStyle": "italic", "labelFontWeight": "normal", "labelOffset": 24, "symbolSize": 130, "symbolStrokeWidth": 1.8, "symbolStrokeColor": "black", "symbolOpacity": 1}}
   }}
 ]},
{"width": 287, "height": 120, "data": {"name": "lam"}, "resolve": {"axis": {"y": "independent"}},
 "layer": [
  {"mark": {"type": "errorbar", "ticks": {"size": 7}, "thickness": 2, "opacity": 1},
   "encoding": {
    "x": {"field": "x", "type": "quantitative", "scale": {"domain": [0.04, 0.37], "nice": false, "zero": false}, "axis": {"values": [0.1, 0.2, 0.3], "format": ".1f", "title": "Sparsity"}},
    "y": {"field": "y", "type": "quantitative", "scale": {"domain": [0.938, 1.678], "nice": false, "zero": false}, "axis": {"values": [1.0, 1.2, 1.4, 1.6], "format": ".1f", "title": "λ", "titleFontSize": 21, "titleFontWeight": "normal", "titleX": -54, "titleY": 62}},
    "yError": {"field": "e"},
    "color": {"field": "g", "type": "nominal"}
   }},
  {"mark": {"type": "line", "strokeWidth": 2},
   "encoding": {
    "x": {"field": "x", "type": "quantitative"},
    "y": {"field": "y", "type": "quantitative", "axis": null},
    "color": {"field": "g", "type": "nominal"}
   }}
 ]},
{"width": 287, "height": 141, "data": {"name": "eg"}, "resolve": {"axis": {"y": "independent"}},
 "layer": [
  {"mark": {"type": "errorbar", "ticks": {"size": 7}, "thickness": 2, "opacity": 1},
   "encoding": {
    "x": {"field": "x", "type": "quantitative", "scale": {"domain": [0.04, 0.37], "nice": false, "zero": false}, "axis": {"values": [0.1, 0.2, 0.3], "format": ".1f", "title": "Sparsity"}},
    "y": {"field": "y", "type": "quantitative", "scale": {"domain": [0.107, 0.722], "nice": false, "zero": false}, "axis": {"values": [0.2, 0.4, 0.6], "format": ".1f", "title": "E", "titleFontStyle": "italic", "titleX": -57, "titleY": 90}},
    "yError": {"field": "e"},
    "color": {"field": "g", "type": "nominal"}
   }},
  {"mark": {"type": "line", "strokeWidth": 2},
   "encoding": {
    "x": {"field": "x", "type": "quantitative"},
    "y": {"field": "y", "type": "quantitative", "axis": {"orient": "left", "title": "glob", "titleFontSize": 12, "domain": false, "labels": false, "ticks": false, "titleX": -51, "titleY": 66.5}},
    "color": {"field": "g", "type": "nominal"}
   }}
 ]},
{"width": 287, "height": 141, "data": {"name": "el"}, "resolve": {"axis": {"y": "independent"}},
 "layer": [
  {"mark": {"type": "errorbar", "ticks": {"size": 7}, "thickness": 2, "opacity": 1},
   "encoding": {
    "x": {"field": "x", "type": "quantitative", "scale": {"domain": [0.04, 0.37], "nice": false, "zero": false}, "axis": {"values": [0.1, 0.2, 0.3], "format": ".1f", "title": "Sparsity"}},
    "y": {"field": "y", "type": "quantitative", "scale": {"domain": [0.303, 0.83], "nice": false, "zero": false}, "axis": {"values": [0.4, 0.6, 0.8], "format": ".1f", "title": "E", "titleFontStyle": "italic", "titleX": -59, "titleY": 85}},
    "yError": {"field": "e"},
    "color": {"field": "g", "type": "nominal"}
   }},
  {"mark": {"type": "line", "strokeWidth": 2},
   "encoding": {
    "x": {"field": "x", "type": "quantitative"},
    "y": {"field": "y", "type": "quantitative", "axis": {"orient": "left", "title": "loc", "titleFontSize": 12, "domain": false, "labels": false, "ticks": false, "titleX": -50.5, "titleY": 70}},
    "color": {"field": "g", "type": "nominal"}
   }}
 ]},
{"width": 287, "height": 120, "resolve": {"axis": {"y": "independent"}},
 "layer": [
  {"data": {"name": "sig"}, "mark": {"type": "errorbar", "ticks": {"size": 7}, "thickness": 2, "opacity": 1},
   "encoding": {
    "x": {"field": "x", "type": "quantitative", "scale": {"domain": [0.04, 0.37], "nice": false, "zero": false}, "axis": {"values": [0.1, 0.2, 0.3], "format": ".1f", "title": "Sparsity"}},
    "y": {"field": "y", "type": "quantitative", "scale": {"domain": [0.99, 4.5], "nice": false, "zero": false}, "axis": {"values": [1.5, 2.5, 3.5, 4.5], "format": ".1f", "title": "σ", "titleFontSize": 21, "titleFontWeight": "normal", "titleX": -46, "titleY": 60}},
    "yError": {"field": "e"},
    "color": {"field": "g", "type": "nominal"}
   }},
  {"data": {"name": "sig"}, "mark": {"type": "line", "strokeWidth": 2},
   "encoding": {
    "x": {"field": "x", "type": "quantitative"},
    "y": {"field": "y", "type": "quantitative", "axis": null},
    "color": {"field": "g", "type": "nominal"}
   }},
  {"data": {"name": "asts"}, "mark": {"type": "point", "filled": false, "size": 90, "strokeWidth": 1.4, "color": "#444444", "opacity": 1},
   "encoding": {
    "x": {"field": "x", "type": "quantitative"},
    "y": {"field": "y", "type": "quantitative", "axis": null},
    "shape": {"field": "s", "type": "nominal"}
   }}
 ]}
]
}
